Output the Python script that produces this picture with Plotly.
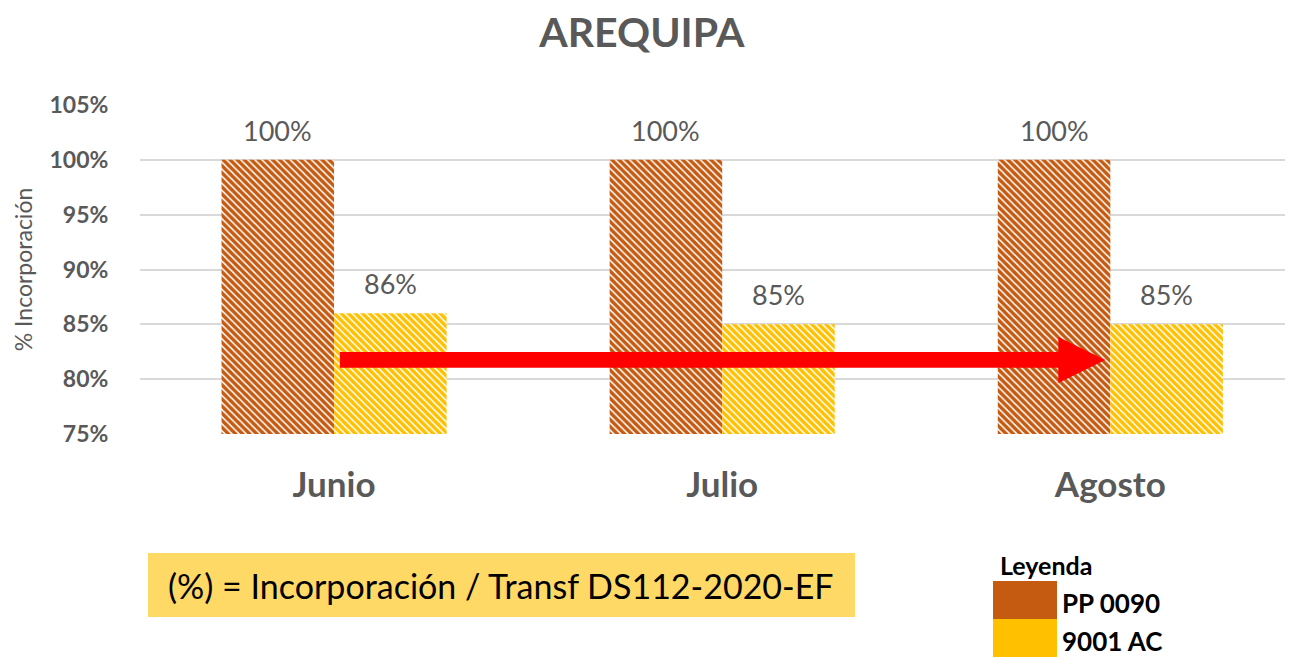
import plotly.graph_objects as go

# chart data
meses = ["Junio", "Julio", "Agosto"]
pp0090 = [100, 100, 100]
ac9001 = [86, 85, 85]
y_ticks = [75, 80, 85, 90, 95, 100, 105]
y_tick_labels = ["75%", "80%", "85%", "90%", "95%", "100%", "105%"]

orange = "#C55A11"
yellow = "#FFC000"
grey = "#595959"
font = "Lato"

W, H = 1289, 657
L, R, T, B = 140, 4, 105, 223


# pixel -> paper helpers
def px(x):
    return (x - L) / (W - L - R)


def py(y):
    return (H - B - y) / (H - T - B)


fig = go.Figure()

fig.add_trace(go.Bar(
    x=meses, y=pp0090, name="PP 0090",
    marker=dict(color="white", line=dict(width=0),
                pattern=dict(shape="\\", fgcolor=orange, bgcolor="white",
                             fgopacity=1, size=5, solidity=0.7)),
))
fig.add_trace(go.Bar(
    x=meses, y=ac9001, name="9001 AC",
    marker=dict(color="white", line=dict(width=0),
                pattern=dict(shape="\\", fgcolor=yellow, bgcolor="white",
                             fgopacity=1, size=5, solidity=0.7)),
))

# data labels above bars
for i, m in enumerate(meses):
    for v, off in ((pp0090[i], -0.145), (ac9001[i], 0.145)):
        fig.add_annotation(x=i + off, y=v, xref="x", yref="y",
                           text=f"{v}%", showarrow=False, yanchor="bottom",
                           yshift=11, font=dict(size=27, color=grey, family=font))

# red arrow from Junio to Agosto
ay = 81.75
x0, x1, xh = 0.015, 1.987, 1.866
fig.add_shape(type="path", xref="x", yref="y",
              path=(f"M {x0} {ay - 0.72} L {xh} {ay - 0.72} L {xh} {ay - 2.1} "
                    f"L {x1} {ay} L {xh} {ay + 2.1} L {xh} {ay + 0.72} "
                    f"L {x0} {ay + 0.72} Z"),
              fillcolor="#FF0000", line=dict(width=0), layer="above")

# formula box
fig.add_shape(type="rect", xref="paper", yref="paper",
              x0=px(148), x1=px(855), y0=py(617), y1=py(553),
              fillcolor="#FFD966", line=dict(width=0))
fig.add_annotation(xref="paper", yref="paper", x=px(501), y=py(585),
                   xanchor="center", yanchor="middle",
                   text="(%) = Incorporación / Transf DS112-2020-EF",
                   showarrow=False, font=dict(size=34, color="black", family=font))

# custom legend
fig.add_annotation(xref="paper", yref="paper", x=px(998), y=py(565),
                   xanchor="left", yanchor="middle", text="<b>Leyenda</b>",
                   showarrow=False, font=dict(size=25, color="black", family=font))
for name, col, top in (("PP 0090", orange, 581), ("9001 AC", yellow, 619)):
    fig.add_shape(type="rect", xref="paper", yref="paper",
                  x0=px(993), x1=px(1057), y0=py(top + 38), y1=py(top),
                  fillcolor=col, line=dict(width=0))
    fig.add_annotation(xref="paper", yref="paper", x=px(1060), y=py(top + 22),
                       xanchor="left", yanchor="middle", text=f"<b>{name}</b>",
                       showarrow=False,
                       font=dict(size=26, color="black", family=font))

fig.update_layout(
    width=W, height=H,
    margin=dict(l=L, r=R, t=T, b=B),
    paper_bgcolor="white", plot_bgcolor="white",
    barmode="group", bargap=0.42, bargroupgap=0,
    showlegend=False,
    title=dict(text="<b>AREQUIPA</b>", x=0.498, xanchor="center",
               y=1 - 33 / H, yanchor="middle",
               font=dict(size=41, color=grey, family=font)),
    font=dict(family=font, color=grey),
)
fig.update_xaxes(range=[-0.5, 2.45], showgrid=False, zeroline=False,
                 showline=False, ticks="outside", ticklen=20,
                 tickcolor="rgba(0,0,0,0)",
                 tickfont=dict(size=35, color=grey, family=font),
                 tickprefix="<b>", ticksuffix="</b>")
fig.update_yaxes(range=[75, 105], tickvals=y_ticks,
                 ticktext=[f"<b>{t}</b>" for t in y_tick_labels],
                 showgrid=True, gridcolor="#D9D9D9", gridwidth=1.5,
                 zeroline=False, showline=False, ticks="outside", ticklen=26,
                 tickcolor="rgba(0,0,0,0)",
                 tickfont=dict(size=23, color=grey, family=font),
                 title=dict(text="% Incorporación", standoff=10,
                            font=dict(size=23, color=grey, family=font)))

fig.write_html("out.html", config={"displayModeBar": False},
               post_script="document.body.style.margin='0px';")
